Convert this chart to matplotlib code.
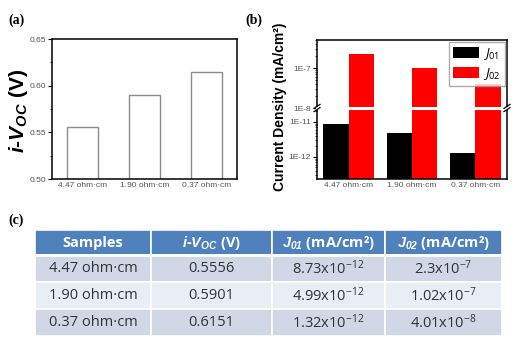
import matplotlib
matplotlib.use('Agg')
import matplotlib.pyplot as plt
from matplotlib.lines import Line2D
from matplotlib.patches import Rectangle
from matplotlib.ticker import FixedLocator, LogLocator, NullFormatter
import numpy as np

plt.rcParams['font.family'] = ['Liberation Sans', 'DejaVu Sans']
plt.rcParams['mathtext.fontset'] = 'custom'
plt.rcParams['mathtext.rm'] = 'Open Sans'
plt.rcParams['mathtext.it'] = 'Open Sans:italic'
plt.rcParams['mathtext.bf'] = 'Open Sans:bold'
plt.rcParams['mathtext.bfit'] = 'Liberation Sans:italic:bold'

# data
samples = ['4.47 ohm·cm', '1.90 ohm·cm', '0.37 ohm·cm']
ivoc = [0.5556, 0.5901, 0.6151]
j01 = [8.73e-12, 4.99e-12, 1.32e-12]
j02 = [2.3e-7, 1.02e-7, 4.01e-8]

headers = ['Samples', r'$\mathbfit{i}$-$\mathbfit{V}_{\mathbfit{OC}}$ (V)',
           r'$\mathbfit{J}_{\mathbfit{01}}$ (mA/cm²)', r'$\mathbfit{J}_{\mathbfit{02}}$ (mA/cm²)']
ivoc_txt = ['0.5556', '0.5901', '0.6151']
j01_txt = [r'8.73x10$^{-12}$', r'4.99x10$^{-12}$', r'1.32x10$^{-12}$']
j02_txt = [r'2.3x10$^{-7}$', r'1.02x10$^{-7}$', r'4.01x10$^{-8}$']

W, H = 529, 339
fig = plt.figure(figsize=(W / 100, H / 100), dpi=100)

def box(l, t, r, b):
    return [l / W, 1 - b / H, (r - l) / W, (b - t) / H]

tick_col = '#555555'
x = np.arange(len(samples))

# (a) i-Voc
ax1 = fig.add_axes(box(52, 39, 237, 179))
ax1.bar(x, ivoc, width=0.5, facecolor='white', edgecolor='#8c8c8c', linewidth=1.0)
ax1.set_xlim(-0.5, 2.5)
ax1.set_ylim(0.50, 0.65)
ax1.set_yticks([0.50, 0.55, 0.60, 0.65])
ax1.set_yticklabels(['0.50', '0.55', '0.60', '0.65'])
ax1.yaxis.set_minor_locator(FixedLocator([0.525, 0.575, 0.625]))
ax1.set_xticks(x)
ax1.set_xticklabels(samples)
ax1.tick_params(axis='y', which='major', length=3, width=0.8, labelsize=6, labelcolor=tick_col, pad=1.5)
ax1.tick_params(axis='y', which='minor', length=1.5, width=0.6)
ax1.tick_params(axis='x', length=0, labelsize=6, labelcolor=tick_col, pad=2)
for s in ax1.spines.values():
    s.set_linewidth(1.1)
fig.text(19 / W, 1 - 111 / H, r'$\mathbfit{i}$-$\mathbfit{V}_{\mathbfit{OC}}$ (V)', rotation=90,
         fontsize=15, fontweight='bold', ha='center', va='center')

# (b) J01 / J02, broken log axis
axt = fig.add_axes(box(317, 40, 507, 108))
axb = fig.add_axes(box(317, 108, 507, 179))
bw = 0.4
for ax in (axt, axb):
    ax.bar(x - bw / 2, j01, width=bw, color='black', bottom=1e-15, label=r'$\mathit{J}_{\mathit{01}}$')
    ax.bar(x + bw / 2, j02, width=bw, color='#ff0000', bottom=1e-15, label=r'$\mathit{J}_{\mathit{02}}$')
    ax.set_yscale('log')
    ax.set_xlim(-0.5, 2.5)
    ax.yaxis.set_minor_locator(LogLocator(base=10, subs=np.arange(2, 10)))
    ax.yaxis.set_minor_formatter(NullFormatter())
    ax.tick_params(axis='y', which='major', length=3, width=0.8, labelsize=6, labelcolor=tick_col, pad=1.5)
    ax.tick_params(axis='y', which='minor', length=1.5, width=0.5)
    for s in ax.spines.values():
        s.set_linewidth(1.1)

axt.set_ylim(1e-8, 10 ** -6.3)
axt.set_yticks([1e-8, 1e-7])
axt.set_yticklabels(['1E-8', '1E-7'])
axt.set_xticks([])
axt.spines['bottom'].set_visible(False)

axb.set_ylim(10 ** -12.63, 10 ** -10.6)
axb.set_yticks([1e-12, 1e-11])
axb.set_yticklabels(['1E-12', '1E-11'])
axb.set_xticks(x)
axb.set_xticklabels(samples)
axb.tick_params(axis='x', length=0, labelsize=6, labelcolor=tick_col, pad=2)
axb.spines['top'].set_visible(False)

axt.legend(loc='upper right', fontsize=9.5, frameon=True, fancybox=False, edgecolor='#999999',
           handlelength=2.0, handleheight=0.9, borderpad=0.3, labelspacing=0.35,
           handletextpad=0.3, borderaxespad=0.15)

# white gap across the break
yb = 1 - 108 / H
fig.add_artist(Line2D([317 / W, 507 / W], [yb, yb], color='white', lw=2.2))
for xs in (317, 507):
    for d in (-1.6, 1.6):
        fig.add_artist(Line2D([(xs - 3) / W, (xs + 3) / W],
                              [yb + (d - 2) / H, yb + (d + 2) / H], color='black', lw=0.9))

fig.text(280 / W, 1 - 107 / H, 'Current Density (mA/cm²)', rotation=90, fontsize=10,
         fontweight='bold', ha='center', va='center')

# panel labels
for lab, px, py in (('(a)', 8, 20), ('(b)', 245, 20), ('(c)', 8, 220)):
    fig.text(px / W, 1 - py / H, lab, fontsize=10, fontweight='bold',
             family='Liberation Serif', va='center', ha='left')

# (c) table
axc = fig.add_axes(box(35, 230, 502, 336))
axc.set_xlim(0, 467)
axc.set_ylim(106, 0)
axc.axis('off')
col_edges = [0, 116, 237, 350, 467]
row_edges = [0, 25, 52, 79, 106]
row_fill = ['#4f81bd', '#d0d8e8', '#e9edf4', '#d0d8e8']
cells = [headers] + [[samples[i], ivoc_txt[i], j01_txt[i], j02_txt[i]] for i in range(3)]
for r in range(4):
    for c in range(4):
        x0, x1 = col_edges[c], col_edges[c + 1]
        y0, y1 = row_edges[r], row_edges[r + 1]
        axc.add_patch(Rectangle((x0, y0), x1 - x0, y1 - y0, facecolor=row_fill[r],
                                edgecolor='white', linewidth=1.2))
        if r == 0:
            axc.text((x0 + x1) / 2, (y0 + y1) / 2, cells[r][c], color='white', fontsize=10.5,
                     fontweight='bold', family='Open Sans', ha='center', va='center')
        else:
            axc.text((x0 + x1) / 2, (y0 + y1) / 2, cells[r][c], color='#333333', fontsize=10.5,
                     family='Open Sans', ha='center', va='center')
axc.plot([0, 467], [25, 25], color='white', lw=2)

fig.savefig('out.png', dpi=100)
